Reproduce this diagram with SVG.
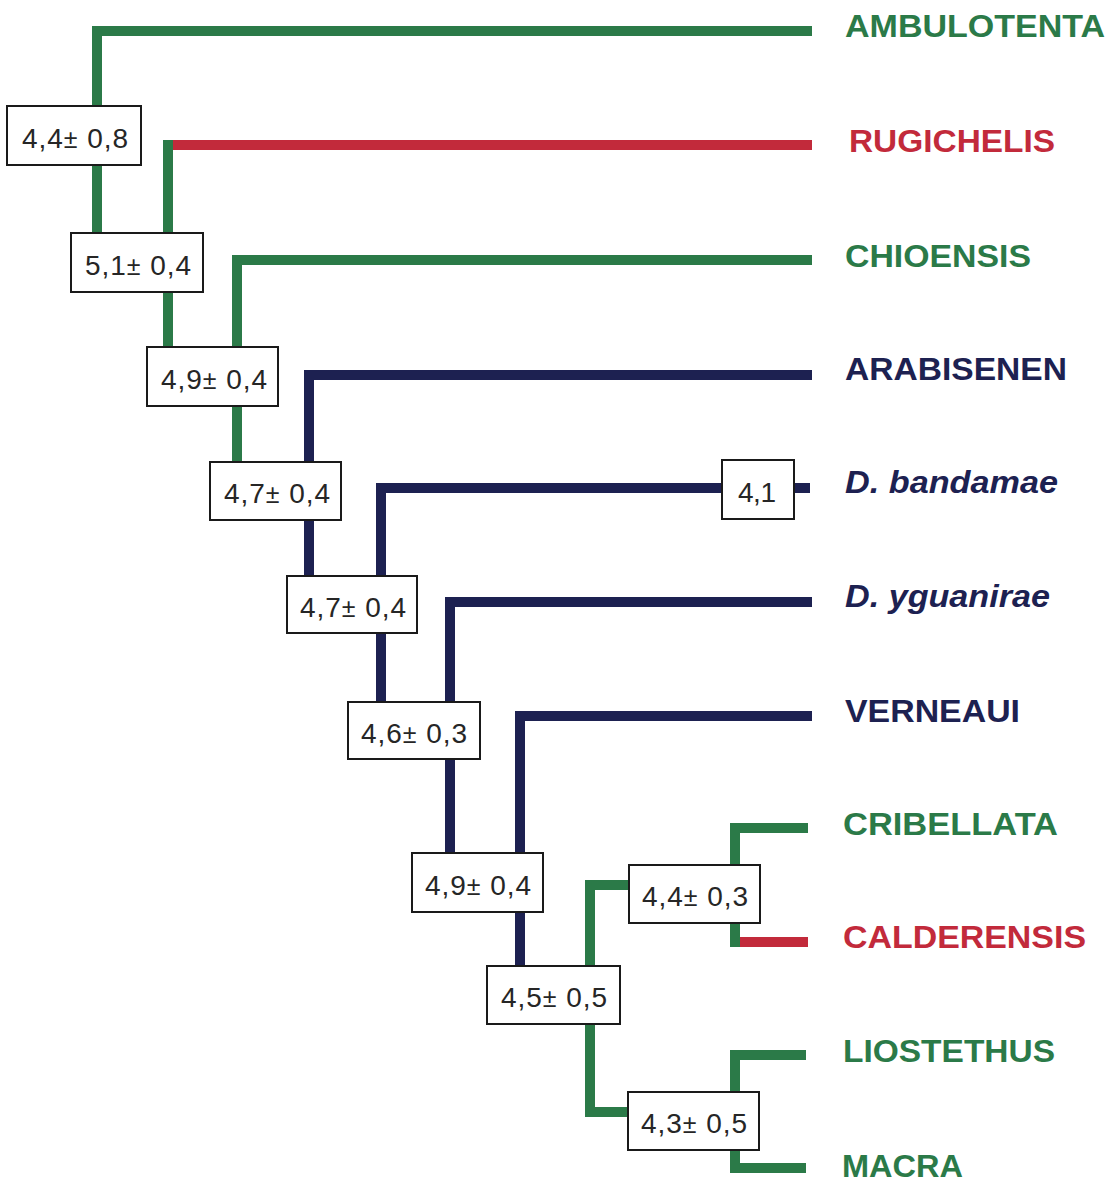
<svg xmlns="http://www.w3.org/2000/svg" width="1114" height="1183" viewBox="0 0 1114 1183">
<style>
.g{stroke:#2b7a48}.r{stroke:#c22a3b}.n{stroke:#1d2151}
#connectors path{fill:none;stroke-width:10;stroke-linejoin:miter;stroke-linecap:butt}
.box rect{fill:#fff;stroke:#1a1a1a;stroke-width:2}
.box text{font-family:"Liberation Sans",Arial,sans-serif;font-size:28px;fill:#262626;text-anchor:middle}
.pm{font-size:25px}
.lab{font-family:"Liberation Sans",Arial,sans-serif;font-size:32px;font-weight:bold}
.tg{fill:#2b7a48}.tr{fill:#c22a3b}.tn{fill:#1d2151}
</style>
<rect width="1114" height="1183" fill="#fff"/>
<g id="connectors">
<path class="g" d="M812,31 H97 V233"/>
<path class="r" d="M812,145 H163"/>
<path class="g" d="M168,140 V347"/>
<path class="g" d="M812,260 H237 V462"/>
<path class="n" d="M812,375 H309 V576"/>
<path class="n" d="M722,488 H381 V702"/>
<path class="n" d="M794,488 H810"/>
<path class="n" d="M812,602 H450 V853"/>
<path class="n" d="M812,716 H520 V966"/>
<path class="g" d="M629,885 H590 V1112 H628"/>
<path class="g" d="M808,828 H735 V947"/>
<path class="r" d="M808,942 H740"/>
<path class="g" d="M806,1055 H735 V1168 H806"/>
</g>
<g id="n1" class="box"><rect x="7" y="106" width="134" height="59"/><text x="75" y="148" textLength="106" lengthAdjust="spacing">4,4<tspan class="pm">±</tspan> 0,8</text></g>
<g id="n2" class="box"><rect x="71" y="233" width="132" height="59"/><text x="138" y="275" textLength="106" lengthAdjust="spacing">5,1<tspan class="pm">±</tspan> 0,4</text></g>
<g id="n3" class="box"><rect x="147" y="347" width="131" height="59"/><text x="214" y="389" textLength="106" lengthAdjust="spacing">4,9<tspan class="pm">±</tspan> 0,4</text></g>
<g id="n4" class="box"><rect x="210" y="462" width="131" height="58"/><text x="277" y="503" textLength="106" lengthAdjust="spacing">4,7<tspan class="pm">±</tspan> 0,4</text></g>
<g id="n5" class="box"><rect x="287" y="576" width="130" height="57"/><text x="353" y="617" textLength="106" lengthAdjust="spacing">4,7<tspan class="pm">±</tspan> 0,4</text></g>
<g id="n6" class="box"><rect x="348" y="702" width="132" height="57"/><text x="414" y="743" textLength="106" lengthAdjust="spacing">4,6<tspan class="pm">±</tspan> 0,3</text></g>
<g id="n7" class="box"><rect x="412" y="853" width="131" height="59"/><text x="478" y="895" textLength="106" lengthAdjust="spacing">4,9<tspan class="pm">±</tspan> 0,4</text></g>
<g id="n8" class="box"><rect x="487" y="966" width="133" height="58"/><text x="554" y="1007" textLength="106" lengthAdjust="spacing">4,5<tspan class="pm">±</tspan> 0,5</text></g>
<g id="n9" class="box"><rect x="629" y="865" width="131" height="58"/><text x="695" y="906" textLength="106" lengthAdjust="spacing">4,4<tspan class="pm">±</tspan> 0,3</text></g>
<g id="n10" class="box"><rect x="628" y="1092" width="131" height="58"/><text x="694" y="1133" textLength="106" lengthAdjust="spacing">4,3<tspan class="pm">±</tspan> 0,5</text></g>
<g id="n11" class="box"><rect x="722" y="460" width="72" height="59"/><text x="757" y="502" textLength="38" lengthAdjust="spacing">4,1</text></g>
<g id="t1"><text class="lab tg" x="845" y="37" textLength="260" lengthAdjust="spacingAndGlyphs">AMBULOTENTA</text></g>
<g id="t2"><text class="lab tr" x="849" y="152" textLength="206" lengthAdjust="spacingAndGlyphs">RUGICHELIS</text></g>
<g id="t3"><text class="lab tg" x="845" y="267" textLength="186" lengthAdjust="spacingAndGlyphs">CHIOENSIS</text></g>
<g id="t4"><text class="lab tn" x="845" y="380" textLength="222" lengthAdjust="spacingAndGlyphs">ARABISENEN</text></g>
<g id="t5"><text class="lab tn" x="845" y="493" font-style="italic" textLength="213" lengthAdjust="spacingAndGlyphs">D. bandamae</text></g>
<g id="t6"><text class="lab tn" x="845" y="607" font-style="italic" textLength="205" lengthAdjust="spacingAndGlyphs">D. yguanirae</text></g>
<g id="t7"><text class="lab tn" x="845" y="722" textLength="175" lengthAdjust="spacingAndGlyphs">VERNEAUI</text></g>
<g id="t8"><text class="lab tg" x="843" y="835" textLength="215" lengthAdjust="spacingAndGlyphs">CRIBELLATA</text></g>
<g id="t9"><text class="lab tr" x="843" y="948" textLength="243" lengthAdjust="spacingAndGlyphs">CALDERENSIS</text></g>
<g id="t10"><text class="lab tg" x="843" y="1062" textLength="212" lengthAdjust="spacingAndGlyphs">LIOSTETHUS</text></g>
<g id="t11"><text class="lab tg" x="842" y="1177" textLength="121" lengthAdjust="spacingAndGlyphs">MACRA</text></g>
</svg>
